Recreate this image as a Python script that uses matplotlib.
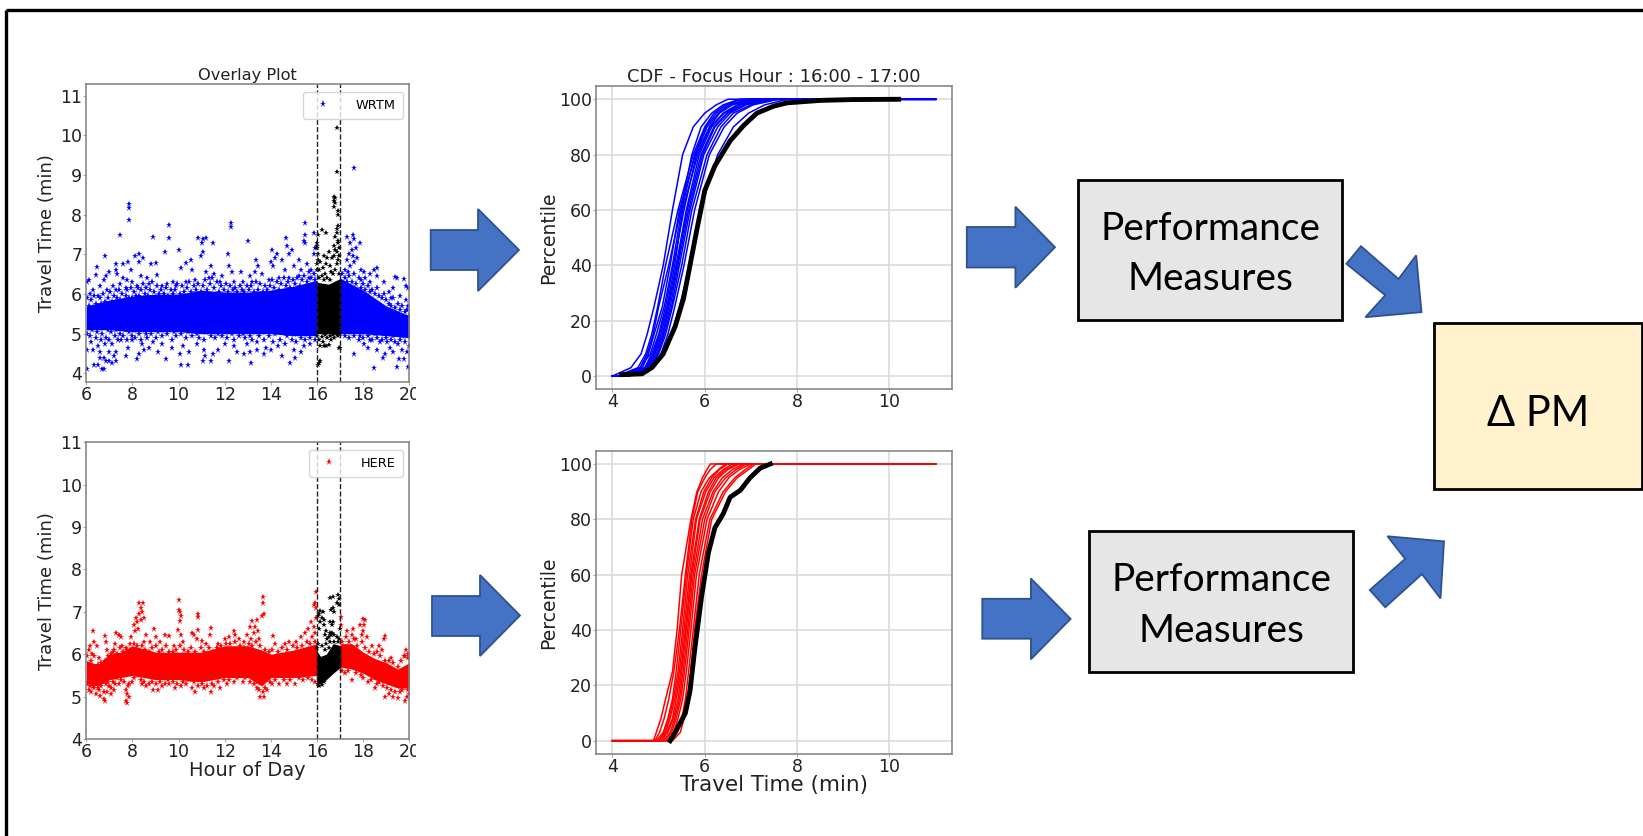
import matplotlib
matplotlib.use('Agg')
import matplotlib.pyplot as plt
from matplotlib.patches import Polygon, Rectangle
import numpy as np

W, H = 1643, 836

# ---- scatter data: (hour, travel time)
hours_grid = [6, 7, 8, 9, 10, 11, 12, 13, 14, 15, 16]
wrtm_core_low = [5.1, 5.1, 5.05, 5.05, 5.05, 5.0, 5.0, 5.0, 5.0, 4.95, 4.95]
wrtm_core_high = [5.7, 5.85, 5.95, 6.0, 6.0, 6.1, 6.05, 6.05, 6.1, 6.2, 6.35]
wrtm_after_hours = [17, 18, 19, 20]
wrtm_after_low = [5.0, 5.0, 4.95, 4.9]
wrtm_after_high = [6.4, 6.1, 5.7, 5.45]

wrtm_pts = [
    (7.83, 8.28), (7.83, 8.18), (7.83, 7.86), (7.47, 7.48), (8.87, 7.45), (9.43, 7.05), (9.6, 7.73),
    (9.6, 7.42), (10.0, 7.1), (10.85, 7.42), (11.0, 7.3), (11.07, 7.38), (11.2, 7.42), (11.5, 7.3),
    (12.27, 7.78), (12.27, 7.7), (12.15, 7.0), (13.03, 7.35), (15.5, 7.78), (15.87, 7.55), (15.5, 7.5),
    (15.5, 7.3), (15.45, 7.35), (14.65, 7.42), (14.7, 7.2), (14.9, 7.1), (14.05, 7.1), (14.25, 7.0),
    (17.6, 9.18), (17.55, 7.5), (17.3, 7.45), (17.6, 7.4), (17.85, 7.3), (17.7, 7.15), (17.45, 7.3),
    (17.5, 7.1), (17.4, 7.0), (17.55, 6.95), (17.75, 6.9), (17.3, 6.85), (17.6, 6.8), (17.45, 6.7),
    (17.2, 6.6), (17.9, 6.6), (17.35, 6.55), (18.05, 6.55), (18.6, 6.65), (18.45, 6.6), (18.3, 6.5),
    (6.8, 6.95), (7.3, 6.75), (7.3, 6.6), (7.6, 6.75), (7.8, 6.8), (8.1, 6.95), (8.3, 7.0), (8.45, 6.92),
    (8.3, 6.8), (8.8, 6.75), (9.0, 6.78), (7.95, 6.6), (7.35, 6.5), (6.45, 6.68), (6.4, 6.48), (6.75, 6.35),
    (6.1, 6.35), (6.05, 6.3), (6.85, 6.45), (7.0, 6.55), (7.6, 6.4), (7.75, 6.35), (8.0, 6.3), (8.35, 6.45),
    (8.65, 6.4), (9.05, 6.48), (9.3, 6.2), (9.75, 6.3), (10.1, 6.65), (10.3, 6.78), (10.55, 6.85), (10.6, 6.6),
    (10.95, 6.95), (11.05, 7.05), (11.3, 6.4), (11.4, 6.7), (11.55, 6.5), (11.9, 6.45), (12.2, 6.7),
    (12.3, 6.55), (12.7, 6.55), (13.1, 6.45), (13.35, 6.85), (13.45, 6.7), (13.3, 6.55), (13.6, 6.5),
    (14.0, 6.8), (14.1, 6.7), (14.2, 6.9), (14.5, 6.85), (14.6, 6.6), (14.8, 7.0), (15.0, 6.7), (15.2, 6.85),
    (15.3, 6.6), (15.55, 6.75), (15.75, 6.6), (15.85, 7.0), (15.9, 7.15), (15.65, 6.4), (15.2, 6.45),
    (14.8, 6.4), (14.35, 6.4), (13.9, 6.35), (13.2, 6.3), (12.8, 6.3), (12.4, 6.3), (11.8, 6.3), (11.2, 6.55),
    (10.7, 6.35), (10.3, 6.3), (9.9, 6.2), (9.5, 6.25), (8.7, 6.25), (8.2, 6.2), (7.45, 6.25), (7.15, 6.2),
    (6.6, 6.2), (6.3, 6.1), (6.15, 6.0), (6.5, 5.95), (6.9, 6.1), (7.3, 6.1), (7.7, 6.15), (18.6, 6.45),
    (18.9, 6.3), (19.3, 6.15), (19.45, 6.4), (19.4, 6.42), (19.75, 6.38), (19.85, 6.2), (19.95, 6.15),
    (19.1, 6.05), (19.6, 5.95), (18.3, 6.3), (18.1, 6.4), (17.9, 6.35), (19.2, 5.9), (19.85, 5.85), (19.95, 5.7),
    (6.05, 4.1), (6.35, 4.22), (6.5, 4.2), (6.7, 4.12), (6.75, 4.1), (6.85, 4.3), (7.0, 4.3), (7.1, 4.25),
    (7.3, 4.3), (6.6, 4.38), (6.75, 4.4), (7.2, 4.45), (7.3, 4.55), (7.0, 4.55), (6.6, 4.55), (6.3, 4.6),
    (6.05, 4.6), (6.2, 4.8), (6.5, 4.7), (6.8, 4.75), (7.1, 4.75), (7.7, 4.45), (8.2, 4.35), (8.3, 4.5),
    (8.5, 4.6), (8.7, 4.65), (8.4, 4.75), (7.8, 4.65), (7.5, 4.85), (8.0, 4.85), (8.9, 4.8), (9.1, 4.55),
    (9.45, 4.37), (9.7, 4.65), (10.05, 4.5), (10.1, 4.22), (10.4, 4.2), (10.45, 4.55), (10.2, 4.7),
    (11.05, 4.3), (11.15, 4.45), (11.4, 4.3), (11.5, 4.5), (11.7, 4.6), (11.1, 4.6), (10.8, 4.75), (12.0, 4.75),
    (12.2, 4.32), (12.4, 4.7), (12.55, 4.55), (12.85, 4.48), (13.15, 4.27), (13.1, 4.55), (13.4, 4.6),
    (13.7, 4.5), (13.8, 4.65), (14.0, 4.6), (14.5, 4.45), (14.3, 4.7), (14.85, 4.25), (15.05, 4.38), (15.0, 4.6),
    (15.3, 4.55), (15.45, 4.7), (15.7, 4.75), (13.4, 4.8), (12.95, 4.75), (9.3, 4.75), (17.6, 4.5),
    (18.05, 4.75), (18.2, 4.65), (18.45, 4.13), (18.6, 4.6), (18.85, 4.38), (18.95, 4.5), (19.3, 4.55),
    (19.45, 4.15), (19.55, 4.35), (19.75, 4.35), (19.95, 4.15), (19.9, 4.55), (19.15, 4.65), (19.7, 4.6),
    (18.3, 4.85), (18.75, 4.8), (19.5, 4.75), (19.05, 4.8), (17.85, 4.95), (20.0, 4.7),
]
# the thick speckled belt around the core of the cloud
wrtm_belt_pts = [
    (6.02, 5.0), (6.1, 5.2), (6.18, 4.95), (6.25, 5.1), (6.33, 5.25), (6.4, 4.9), (6.48, 5.05), (6.55, 5.2),
    (6.63, 4.85), (6.7, 5.0), (6.78, 5.2), (6.85, 4.9), (6.93, 5.1), (7.0, 4.85), (7.08, 5.05), (7.15, 5.2),
    (7.23, 4.95), (7.3, 5.1), (7.38, 4.85), (7.45, 5.0), (7.53, 5.2), (7.6, 4.95), (7.68, 5.1), (7.75, 4.85),
    (7.83, 5.05), (7.9, 5.2), (7.98, 4.95), (8.05, 5.1), (8.13, 4.9), (8.2, 5.2), (8.28, 5.0), (8.35, 4.85),
    (8.43, 5.1), (8.5, 5.22), (8.58, 5.0), (8.65, 4.9), (8.73, 5.15), (8.8, 5.0), (8.9, 5.15), (9.0, 4.9),
    (9.1, 5.05), (9.2, 5.2), (9.3, 4.95), (9.4, 5.1), (9.5, 5.0), (9.6, 5.2), (9.7, 4.85), (9.8, 5.05),
    (9.9, 4.95), (10.0, 5.15), (10.1, 5.0), (10.2, 5.2), (10.3, 4.9), (10.4, 5.05), (10.5, 5.15), (10.6, 4.95),
    (10.7, 5.1), (10.8, 5.0), (10.9, 4.9), (11.0, 5.1), (11.1, 4.85), (11.2, 5.05), (11.3, 5.15), (11.4, 4.95),
    (11.5, 5.1), (11.6, 4.9), (11.7, 5.0), (11.8, 5.15), (11.9, 4.95), (12.0, 5.05), (12.1, 4.9), (12.2, 5.1),
    (12.3, 5.0), (12.4, 4.85), (12.5, 5.1), (12.6, 4.95), (12.7, 5.15), (12.8, 5.0), (12.9, 4.9), (13.0, 5.1),
    (13.1, 4.95), (13.2, 4.85), (13.3, 5.05), (13.4, 5.15), (13.5, 4.95), (13.6, 5.05), (13.7, 4.85), (13.8, 5.1),
    (13.9, 4.95), (14.0, 5.1), (14.1, 4.8), (14.2, 5.0), (14.3, 5.15), (14.4, 4.85), (14.5, 5.05), (14.6, 4.75),
    (14.7, 4.95), (14.8, 5.1), (14.9, 4.85), (15.0, 5.0), (15.1, 4.8), (15.2, 5.05), (15.3, 4.9), (15.4, 5.1),
    (15.5, 4.85), (15.6, 5.0), (15.7, 4.9), (15.8, 5.05), (15.9, 4.85), (17.1, 5.05), (17.2, 4.95), (17.3, 5.1),
    (17.4, 4.9), (17.5, 5.05), (17.6, 4.95), (17.7, 5.1), (17.8, 4.85), (17.9, 5.05), (18.0, 4.9), (18.1, 5.05),
    (18.2, 4.95), (18.3, 5.1), (18.4, 4.85), (18.5, 5.0), (18.6, 4.9), (18.7, 5.1), (18.8, 4.85), (18.9, 5.0),
    (19.0, 4.9), (19.1, 5.05), (19.2, 4.85), (19.3, 4.95), (19.4, 4.8), (19.5, 5.0), (19.6, 4.85), (19.7, 4.95),
    (19.8, 4.8), (19.9, 4.95), (6.05, 5.9), (6.12, 5.7), (6.2, 5.85), (6.28, 5.65), (6.35, 5.95), (6.43, 5.75),
    (6.5, 5.65), (6.58, 5.9), (6.65, 5.75), (6.73, 6.0), (6.8, 5.8), (6.88, 5.65), (6.95, 5.9), (7.03, 6.05),
    (7.1, 5.8), (7.18, 5.95), (7.25, 5.75), (7.33, 5.9), (7.4, 6.1), (7.48, 5.85), (7.55, 6.0), (7.63, 5.8),
    (7.7, 5.95), (7.78, 6.1), (7.85, 5.9), (7.93, 6.15), (8.0, 5.9), (8.08, 6.05), (8.15, 5.95), (8.23, 6.15),
    (8.3, 5.95), (8.38, 6.1), (8.45, 6.25), (8.53, 6.0), (8.6, 6.15), (8.68, 5.95), (8.75, 6.1), (8.85, 6.3),
    (8.95, 6.05), (9.05, 6.2), (9.15, 6.0), (9.25, 6.1), (9.35, 6.0), (9.45, 6.15), (9.55, 5.95), (9.65, 6.1),
    (9.75, 6.0), (9.85, 6.1), (9.95, 6.25), (10.05, 6.0), (10.15, 6.2), (10.25, 6.05), (10.35, 6.15), (10.45, 6.3),
    (10.55, 6.05), (10.65, 6.2), (10.75, 6.1), (10.85, 6.25), (10.95, 6.05), (11.05, 6.2), (11.15, 6.35),
    (11.25, 6.1), (11.35, 6.25), (11.45, 6.4), (11.55, 6.15), (11.65, 6.3), (11.75, 6.05), (11.85, 6.2),
    (11.95, 6.1), (12.05, 6.25), (12.15, 6.05), (12.25, 6.2), (12.35, 6.1), (12.45, 6.15), (12.55, 6.05),
    (12.65, 6.2), (12.75, 6.1), (12.85, 6.05), (12.95, 6.2), (13.05, 6.1), (13.15, 6.2), (13.25, 6.05),
    (13.35, 6.3), (13.45, 6.1), (13.55, 6.25), (13.65, 6.05), (13.75, 6.2), (13.85, 6.1), (13.95, 6.2),
    (14.05, 6.35), (14.15, 6.15), (14.25, 6.3), (14.35, 6.1), (14.45, 6.25), (14.55, 6.4), (14.65, 6.2),
    (14.75, 6.3), (14.85, 6.15), (14.95, 6.35), (15.05, 6.25), (15.15, 6.4), (15.25, 6.2), (15.35, 6.35),
    (15.45, 6.45), (15.55, 6.3), (15.65, 6.55), (15.75, 6.4), (15.85, 6.5), (15.92, 6.35), (17.1, 6.5),
    (17.2, 6.4), (17.3, 6.3), (17.4, 6.45), (17.5, 6.3), (17.6, 6.5), (17.7, 6.25), (17.8, 6.4), (17.9, 6.15),
    (18.0, 6.25), (18.1, 6.1), (18.2, 6.2), (18.3, 6.05), (18.4, 6.1), (18.5, 6.0), (18.6, 6.15), (18.7, 5.95),
    (18.8, 5.9), (18.9, 6.0), (19.0, 5.85), (19.1, 5.75), (19.2, 5.7), (19.3, 5.9), (19.4, 5.65), (19.5, 5.75),
    (19.6, 5.6), (19.7, 5.7), (19.8, 5.55), (19.9, 5.6), (20.0, 5.45),
]
wrtm_focus_grid = [15.97, 16.5, 17.03]
wrtm_focus_low = [5.0, 5.0, 5.0]
wrtm_focus_high = [6.3, 6.25, 6.4]
wrtm_focus_pts = [
    (16.85, 10.18), (16.87, 9.08), (16.75, 8.45), (16.8, 8.42), (16.72, 8.35), (16.8, 8.3), (16.72, 8.2),
    (16.92, 8.1), (16.9, 8.0), (16.9, 7.72), (16.85, 7.65), (16.2, 7.62), (16.4, 7.55), (16.05, 7.5),
    (16.8, 7.45), (16.9, 7.3), (16.0, 7.3), (16.75, 7.2), (16.95, 7.15), (16.85, 7.05), (16.5, 7.05),
    (16.05, 7.0), (16.3, 6.95), (16.45, 6.9), (16.65, 6.9), (16.9, 6.85), (16.75, 6.95), (16.15, 6.8),
    (16.4, 6.75), (16.55, 6.7), (16.25, 6.65), (16.8, 6.6), (16.6, 6.55), (16.35, 6.5), (16.1, 6.6),
    (16.95, 6.5), (16.08, 4.25), (16.12, 4.3), (16.05, 4.22), (16.15, 4.7), (16.3, 4.7), (16.4, 4.68),
    (16.5, 4.72), (16.25, 4.78), (16.95, 4.65), (17.0, 4.63), (16.6, 4.85), (16.75, 4.9), (16.1, 4.85),
    (16.9, 4.95), (16.45, 4.9), (16.0, 4.95), (16.98, 5.0), (16.02, 6.75), (16.05, 6.85), (16.0, 6.6),
    (16.2, 6.45), (16.45, 6.4), (16.7, 6.5), (16.85, 6.75), (16.95, 6.95), (16.8, 7.1), (16.88, 7.55),
    (16.92, 7.35), (16.0, 7.15), (16.02, 7.2), (16.08, 6.4), (16.55, 6.35), (16.3, 6.35), (16.7, 4.98),
    (16.55, 4.95), (16.35, 4.98), (16.2, 4.92), (16.85, 4.98),
]

here_core_hours = [6, 6.5, 7, 7.5, 8, 9, 10, 11, 12, 13, 13.6, 14, 15, 16]
here_core_low = [5.3, 5.25, 5.4, 5.45, 5.5, 5.4, 5.4, 5.35, 5.45, 5.45, 5.25, 5.45, 5.45, 5.5]
here_core_high = [5.85, 5.75, 6.0, 6.05, 6.2, 6.05, 6.05, 6.05, 6.2, 6.2, 6.1, 6.0, 6.1, 6.25]
here_after_hours = [17, 17.5, 18, 18.5, 19, 19.5, 20]
here_after_low = [5.7, 5.65, 5.55, 5.4, 5.3, 5.2, 5.2]
here_after_high = [6.25, 6.25, 6.05, 5.9, 5.8, 5.65, 5.8]

here_pts = [
    (8.3, 7.22), (8.45, 7.2), (8.35, 7.1), (8.4, 7.0), (8.3, 6.95), (8.5, 6.85), (8.15, 6.85), (8.2, 6.75),
    (8.35, 6.8), (8.05, 6.7), (8.1, 6.55), (8.25, 6.6), (8.6, 6.45), (8.75, 6.3), (8.95, 6.6), (8.5, 6.3),
    (7.95, 6.4), (7.9, 6.25), (10.0, 7.27), (10.0, 7.05), (10.05, 7.0), (10.1, 6.9), (10.08, 6.78),
    (9.98, 6.57), (10.1, 6.45), (10.2, 6.3), (10.85, 6.95), (10.85, 6.88), (10.6, 6.5), (10.65, 6.45),
    (10.85, 6.57), (10.8, 6.35), (11.0, 6.32), (11.4, 6.62), (11.35, 6.45), (9.4, 6.45), (9.6, 6.42),
    (9.0, 6.4), (9.2, 6.3), (9.8, 6.2), (13.68, 7.35), (13.65, 7.2), (13.7, 6.95), (13.6, 6.9), (13.4, 6.8),
    (13.2, 6.78), (13.1, 6.65), (13.3, 6.65), (13.45, 6.55), (13.25, 6.5), (12.95, 6.45), (13.5, 6.35),
    (13.15, 6.35), (12.4, 6.55), (12.45, 6.45), (12.2, 6.4), (12.6, 6.35), (12.0, 6.35), (12.85, 6.3),
    (11.7, 6.25), (11.2, 6.25), (14.1, 6.42), (14.2, 6.25), (14.6, 6.25), (14.8, 6.28), (15.1, 6.3),
    (15.3, 6.4), (15.5, 6.5), (15.6, 6.6), (15.75, 6.75), (15.85, 6.65), (15.95, 7.47), (15.92, 7.2),
    (15.85, 7.15), (15.97, 7.1), (15.95, 6.85), (15.9, 6.5), (15.8, 6.4), (6.15, 6.2), (6.1, 6.1), (6.3, 6.55),
    (6.35, 6.3), (6.45, 6.2), (6.25, 6.0), (6.55, 5.9), (6.8, 6.42), (6.85, 6.3), (6.9, 6.1), (7.3, 6.5),
    (7.4, 6.45), (7.5, 6.4), (7.25, 6.25), (7.55, 6.2), (7.7, 6.15), (7.15, 6.05), (7.25, 5.95), (6.95, 5.95),
    (6.1, 5.15), (6.2, 5.1), (6.4, 5.05), (6.6, 5.02), (6.75, 4.95), (6.8, 4.9), (6.9, 5.1), (7.05, 5.05),
    (7.2, 5.15), (6.5, 5.2), (6.3, 5.25), (7.0, 5.25), (7.4, 5.3), (7.7, 5.15), (7.75, 5.05), (7.7, 4.9),
    (7.75, 4.85), (7.85, 5.0), (7.8, 5.25), (8.0, 5.35), (8.4, 5.3), (8.6, 5.25), (8.9, 5.15), (9.1, 5.15),
    (9.3, 5.25), (9.6, 5.3), (9.85, 5.2), (10.1, 5.25), (10.3, 5.3), (10.6, 5.2), (10.7, 5.12), (11.1, 5.2),
    (11.4, 5.1), (11.55, 5.25), (11.8, 5.2), (12.1, 5.3), (12.4, 5.35), (12.8, 5.35), (13.1, 5.35),
    (13.4, 5.2), (13.55, 5.0), (13.7, 4.98), (13.65, 5.1), (13.85, 5.15), (14.05, 5.3), (14.35, 5.3),
    (14.7, 5.3), (15.05, 5.3), (15.4, 5.4), (15.8, 5.4), (15.9, 5.35), (17.05, 6.7), (17.05, 6.88),
    (17.3, 6.55), (17.55, 6.6), (17.5, 6.45), (17.85, 6.7), (18.0, 6.82), (18.05, 6.7), (18.0, 6.55),
    (18.1, 6.8), (18.15, 6.4), (17.95, 6.45), (17.7, 6.35), (18.4, 6.2), (18.95, 6.42), (18.9, 6.35),
    (18.7, 6.2), (18.8, 6.1), (19.2, 5.9), (19.85, 6.1), (19.95, 6.0), (19.75, 5.95), (18.5, 5.2),
    (18.95, 5.0), (19.1, 5.05), (19.3, 5.0), (19.5, 4.97), (19.8, 4.9), (19.9, 5.0), (20.0, 5.05),
    (19.6, 5.1), (19.2, 5.15), (18.2, 5.35), (18.7, 5.35), (17.5, 5.4), (17.2, 5.55), (17.9, 5.5),
]
# bumpy edges of the red cloud
here_belt_pts = [
    (6.05, 5.3), (6.15, 5.25), (6.25, 5.35), (6.35, 5.2), (6.45, 5.3), (6.55, 5.15), (6.65, 5.25), (6.75, 5.1),
    (6.85, 5.3), (6.95, 5.35), (7.05, 5.2), (7.15, 5.35), (7.25, 5.3), (7.35, 5.45), (7.5, 5.4), (7.65, 5.35),
    (7.85, 5.3), (8.05, 5.45), (8.2, 5.5), (8.35, 5.4), (8.5, 5.35), (8.7, 5.3), (8.85, 5.35), (9.0, 5.3),
    (9.2, 5.35), (9.4, 5.3), (9.55, 5.4), (9.75, 5.35), (9.95, 5.3), (10.2, 5.35), (10.45, 5.4), (10.65, 5.35),
    (10.85, 5.25), (11.0, 5.3), (11.25, 5.25), (11.45, 5.3), (11.7, 5.35), (11.95, 5.4), (12.2, 5.4),
    (12.55, 5.45), (12.9, 5.45), (13.25, 5.3), (13.4, 5.35), (13.5, 5.15), (13.75, 5.2), (13.95, 5.35),
    (14.2, 5.4), (14.55, 5.4), (14.85, 5.4), (15.2, 5.45), (15.6, 5.45), (17.1, 5.6), (17.35, 5.6), (17.7, 5.55),
    (18.0, 5.45), (18.35, 5.4), (18.6, 5.3), (18.85, 5.25), (19.05, 5.2), (19.4, 5.1), (19.7, 5.15), (19.95, 5.15),
    (6.05, 5.95), (6.2, 5.85), (6.35, 5.95), (6.5, 5.75), (6.65, 5.8), (6.8, 5.85), (7.05, 6.0), (7.2, 6.1),
    (7.35, 6.0), (7.45, 6.15), (7.6, 6.05), (7.75, 6.1), (7.9, 6.1), (8.05, 6.25), (8.2, 6.2), (8.4, 6.2),
    (8.55, 6.1), (8.7, 6.05), (8.85, 6.15), (9.0, 6.2), (9.15, 6.05), (9.3, 6.1), (9.45, 6.2), (9.6, 6.05),
    (9.75, 6.05), (9.9, 6.1), (10.05, 6.2), (10.25, 6.1), (10.4, 6.05), (10.55, 6.15), (10.7, 6.05),
    (10.95, 6.15), (11.1, 6.05), (11.3, 6.15), (11.5, 6.05), (11.65, 6.15), (11.85, 6.2), (12.05, 6.25),
    (12.25, 6.25), (12.45, 6.3), (12.65, 6.2), (12.85, 6.15), (13.05, 6.25), (13.2, 6.2), (13.35, 6.3),
    (13.55, 6.2), (13.75, 6.1), (13.9, 6.05), (14.05, 6.1), (14.3, 6.05), (14.5, 6.15), (14.7, 6.1),
    (14.95, 6.2), (15.15, 6.15), (15.35, 6.2), (15.55, 6.3), (15.7, 6.25), (15.9, 6.3), (17.1, 6.3),
    (17.25, 6.4), (17.4, 6.3), (17.6, 6.35), (17.75, 6.2), (17.95, 6.3), (18.1, 6.15), (18.25, 6.05),
    (18.45, 6.0), (18.6, 6.05), (18.75, 5.95), (18.95, 5.85), (19.1, 5.85), (19.3, 5.8), (19.5, 5.7),
    (19.65, 5.85), (19.8, 5.95), (19.95, 5.9),
]
here_focus_grid = [15.97, 16.15, 16.4, 16.7, 17.03]
here_focus_low = [5.35, 5.3, 5.4, 5.55, 5.7]
here_focus_high = [6.1, 5.95, 6.0, 6.25, 6.2]
here_focus_pts = [
    (16.92, 7.4), (16.95, 7.3), (16.88, 7.2), (16.95, 7.15), (16.7, 7.35), (16.55, 7.32), (16.7, 7.1),
    (16.6, 7.05), (16.75, 7.0), (16.15, 7.02), (16.25, 7.0), (16.08, 6.95), (16.2, 6.85), (16.12, 6.75),
    (16.05, 6.9), (16.3, 6.8), (16.55, 6.75), (16.7, 6.75), (16.65, 6.7), (16.08, 6.6), (16.3, 6.7),
    (16.98, 6.6), (16.4, 6.55), (16.55, 6.5), (16.35, 6.45), (16.65, 6.5), (16.75, 6.45), (16.5, 6.4),
    (16.85, 6.4), (16.95, 6.35), (16.05, 6.25), (16.2, 6.2), (16.55, 6.3), (16.4, 6.25), (16.75, 6.3),
    (16.05, 5.3), (16.1, 5.25), (16.2, 5.28), (16.15, 5.35), (16.3, 5.35), (16.45, 6.35), (16.6, 6.45),
    (16.9, 6.3), (16.35, 6.1), (16.5, 6.15), (16.02, 6.15),
]

# ---- CDF curves: travel time reached at each percentile
percentiles = [0, 3, 8, 15, 25, 40, 60, 80, 90, 95, 98, 100]
wrtm_curves = [
    [4.0, 4.4, 4.62, 4.75, 4.9, 5.1, 5.3, 5.52, 5.75, 6.0, 6.25, 6.5],
    [4.1, 4.55, 4.72, 4.85, 4.98, 5.15, 5.42, 5.75, 6.0, 6.2, 6.45, 6.8],
    [4.15, 4.6, 4.75, 4.88, 5.0, 5.22, 5.48, 5.72, 5.92, 6.15, 6.4, 6.75],
    [4.2, 4.65, 4.78, 4.9, 5.08, 5.25, 5.45, 5.8, 6.05, 6.3, 6.55, 6.9],
    [4.2, 4.6, 4.82, 4.95, 5.12, 5.3, 5.5, 5.78, 6.02, 6.25, 6.5, 7.0],
    [4.25, 4.7, 4.85, 5.0, 5.15, 5.32, 5.55, 5.82, 6.1, 6.32, 6.6, 7.05],
    [4.25, 4.72, 4.88, 5.02, 5.18, 5.35, 5.52, 5.85, 6.12, 6.4, 6.7, 7.1],
    [4.3, 4.75, 4.9, 5.05, 5.2, 5.38, 5.6, 5.88, 6.15, 6.42, 6.75, 7.2],
    [4.3, 4.75, 4.92, 5.08, 5.22, 5.4, 5.62, 5.92, 6.2, 6.48, 6.78, 7.25],
    [4.3, 4.78, 4.95, 5.1, 5.25, 5.42, 5.65, 5.95, 6.22, 6.5, 6.85, 7.3],
    [4.32, 4.8, 4.98, 5.12, 5.28, 5.45, 5.68, 5.98, 6.28, 6.55, 6.9, 7.4],
    [4.35, 4.82, 5.0, 5.15, 5.3, 5.5, 5.72, 6.05, 6.35, 6.62, 7.0, 7.5],
    [4.35, 4.85, 5.05, 5.2, 5.35, 5.55, 5.78, 6.1, 6.42, 6.7, 7.05, 7.6],
    [4.35, 4.9, 5.1, 5.28, 5.45, 5.68, 5.9, 6.28, 6.62, 6.95, 7.3, 7.8],
]
here_curves = [
    [4.89, 4.95, 5.05, 5.15, 5.3, 5.4, 5.5, 5.7, 5.83, 5.95, 6.05, 6.12],
    [4.92, 5.02, 5.12, 5.22, 5.33, 5.45, 5.58, 5.72, 5.85, 6.0, 6.12, 6.25],
    [4.95, 5.1, 5.2, 5.3, 5.38, 5.48, 5.6, 5.75, 5.92, 6.1, 6.3, 6.45],
    [5.0, 5.12, 5.22, 5.32, 5.42, 5.52, 5.63, 5.8, 5.98, 6.15, 6.32, 6.5],
    [5.0, 5.15, 5.25, 5.35, 5.45, 5.55, 5.67, 5.82, 6.02, 6.2, 6.4, 6.6],
    [5.05, 5.18, 5.3, 5.38, 5.48, 5.58, 5.7, 5.88, 6.08, 6.25, 6.45, 6.7],
    [5.05, 5.2, 5.32, 5.42, 5.5, 5.6, 5.72, 5.9, 6.12, 6.3, 6.5, 6.75],
    [5.1, 5.25, 5.35, 5.45, 5.53, 5.63, 5.75, 5.95, 6.18, 6.38, 6.6, 6.85],
    [5.1, 5.28, 5.38, 5.48, 5.56, 5.66, 5.78, 6.0, 6.22, 6.45, 6.68, 6.9],
    [5.15, 5.32, 5.42, 5.52, 5.6, 5.7, 5.82, 6.05, 6.3, 6.52, 6.75, 7.0],
    [5.2, 5.4, 5.5, 5.58, 5.65, 5.75, 5.88, 6.11, 6.4, 6.65, 6.88, 7.05],
    [5.3, 5.47, 5.55, 5.62, 5.7, 5.78, 5.93, 6.15, 6.45, 6.7, 6.95, 7.1],
]
wrtm_focus_x = [4.2, 4.64, 4.85, 5.1, 5.36, 5.54, 5.68, 5.83, 6.0, 6.22, 6.55, 6.84, 7.13, 7.49, 7.78, 8.5, 9.2, 10.2]
wrtm_focus_y = [0.5, 0.8, 3, 8, 18, 28, 40, 53, 67, 76, 85, 90.5, 95, 97.5, 98.7, 99.6, 99.9, 100]
here_focus_x = [5.25, 5.36, 5.58, 5.68, 5.79, 5.93, 6.08, 6.22, 6.4, 6.55, 6.77, 6.98, 7.2, 7.42]
here_focus_y = [0, 3, 10, 18, 34, 52, 68, 77, 82, 88, 90.5, 95, 98.5, 100]


def px_axes(left, top, right, bottom):
    return fig.add_axes([left / W, 1 - bottom / H, (right - left) / W, (bottom - top) / H])


def style_axes(ax):
    for s in ax.spines.values():
        s.set_color('#7f7f7f')
        s.set_linewidth(1.1)
    ax.tick_params(labelsize=12.5, length=2, width=0.6, color='#999999', labelcolor='#222222', pad=1)


def scatter_panel(ax, grid, low, high, after_grid, after_low, after_high, pts, belt, focus_pts,
                  color, label, ylim, f_grid, f_low, f_high):
    pts = np.array(pts)
    belt = np.array(belt)
    focus_pts = np.array(focus_pts)
    ax.fill_between(grid, low, high, color=color, lw=0)
    ax.fill_between(after_grid, after_low, after_high, color=color, lw=0)
    ax.plot(belt[:, 0], belt[:, 1], '*', color=color, ms=5.5, mew=0)
    ax.plot(pts[:, 0], pts[:, 1], '*', color=color, ms=4.6, mew=0, label=label)
    ax.fill_between(f_grid, f_low, f_high, color='black', lw=0)
    ax.plot(focus_pts[:, 0], focus_pts[:, 1], '*', color='black', ms=4.2, mew=0)
    ax.axvline(16, color='#222222', ls='--', lw=1)
    ax.axvline(17, color='#222222', ls='--', lw=1)
    ax.set_xlim(6, 20)
    ax.set_ylim(*ylim)
    ax.set_xticks(range(6, 21, 2))
    ax.set_yticks(range(4, 12))
    ax.set_ylabel('Travel Time (min)', fontsize=13, color='#222222', labelpad=3)
    style_axes(ax)
    ax.legend(loc='upper right', fontsize=9.3, handletextpad=1.5, borderpad=0.55,
              bbox_to_anchor=(0.98, 0.975), borderaxespad=0, markerscale=1.1)
    # the source image crops the last tick label on the right
    crop = Rectangle((0, 0), 416 / W, 1, transform=fig.transFigure)
    lbl = ax.get_xticklabels()[-1]
    lbl.set_clip_on(True)
    lbl.set_clip_path(crop)


def cdf_panel(ax, curves, color, fx, fy):
    for c in curves:
        ax.plot([4] + c + [11], [0] + percentiles + [100], color=color, lw=1.1)
    ax.plot(fx, fy, color='black', lw=3.5)
    ax.set_xlim(3.65, 11.35)
    ax.set_ylim(-4.8, 104.8)
    ax.set_xticks([4, 6, 8, 10])
    ax.set_yticks(range(0, 101, 20))
    ax.grid(color='#dcdcdc', lw=1.2)
    ax.set_axisbelow(True)
    ax.set_ylabel('Percentile', fontsize=13.5, color='#222222', labelpad=1)
    style_axes(ax)


fig = plt.figure(figsize=(W / 100, H / 100), dpi=100)

ax1 = px_axes(86.3, 84.3, 409.3, 381.7)
scatter_panel(ax1, hours_grid, wrtm_core_low, wrtm_core_high, wrtm_after_hours, wrtm_after_low,
              wrtm_after_high, wrtm_pts, wrtm_belt_pts, wrtm_focus_pts, '#0000ff', 'WRTM', (3.79, 11.29),
              wrtm_focus_grid, wrtm_focus_low, wrtm_focus_high)
ax1.set_title('Overlay Plot', fontsize=11.7, color='#222222', pad=3)

ax3 = px_axes(86.3, 442.3, 409.3, 739)
scatter_panel(ax3, here_core_hours, here_core_low, here_core_high, here_after_hours, here_after_low,
              here_after_high, here_pts, here_belt_pts, here_focus_pts, '#ff0000', 'HERE', (4, 11),
              here_focus_grid, here_focus_low, here_focus_high)
ax3.set_xlabel('Hour of Day', fontsize=14, color='#222222', labelpad=0)

ax2 = px_axes(596.3, 86, 951.7, 389.3)
cdf_panel(ax2, wrtm_curves, '#0000ff', wrtm_focus_x, wrtm_focus_y)
ax2.set_title('CDF - Focus Hour : 16:00 - 17:00', fontsize=13, color='#222222', pad=3)

ax4 = px_axes(596.3, 450.7, 951.7, 754)
cdf_panel(ax4, here_curves, '#ff0000', here_focus_x, here_focus_y)
ax4.set_xlabel('Travel Time (min)', fontsize=15.5, color='#222222', labelpad=-1)

# ---- flow diagram, in pixel coordinates
ov = fig.add_axes([0, 0, 1, 1], zorder=-1)
ov.set_xlim(0, W)
ov.set_ylim(H, 0)
ov.axis('off')
ov.plot([6, 6], [H, 10], color='black', lw=2.4, solid_capstyle='butt')
ov.plot([6, W], [10, 10], color='black', lw=2.4, solid_capstyle='butt')


def arrow(points):
    ov.add_patch(Polygon(points, closed=True, fc='#4472c4', ec='#2f528f', lw=1.3))


def right_arrow(x0, base, tip, top, s_top, s_bot, bot):
    arrow([(x0, s_top), (base, s_top), (base, top), (tip, (top + bot) / 2), (base, bot), (base, s_bot), (x0, s_bot)])


right_arrow(430.7, 478, 519, 209, 230, 270, 291)
right_arrow(432, 480, 520, 575, 596, 636, 656)
right_arrow(966.8, 1015.4, 1055, 206.7, 227, 267.5, 287.8)
right_arrow(982.3, 1030.9, 1070.6, 578.5, 598.8, 638.7, 659.3)


def zoom_pt(zx, zy):
    return (950 + zx / 2.263, 160 + zy / 2.958)


arrow([zoom_pt(*p) for p in [(930, 255), (1015, 352), (1055, 282), (1067, 450), (940, 465), (985, 400), (897, 307)]])
arrow([zoom_pt(*p) for p in [(950, 1272), (1030, 1180), (990, 1113), (1118, 1128), (1110, 1297), (1068, 1225), (985, 1323)]])


def box(x0, y0, x1, y1, fc, lw, txt, fs, dy=0):
    ov.add_patch(Rectangle((x0, y0), x1 - x0, y1 - y0, fc=fc, ec='black', lw=lw))
    ov.text((x0 + x1) / 2, (y0 + y1) / 2 + dy, txt, ha='center', va='center', fontsize=fs,
            family='Lato', color='black', linespacing=1.5)


box(1078, 179.6, 1342.4, 320, '#e7e6e6', 2, 'Performance\nMeasures', 28, dy=4)
box(1089, 531, 1353.4, 671.5, '#e7e6e6', 2, 'Performance\nMeasures', 28, dy=4)
box(1434.3, 323, 1641.6, 489.3, '#fff2cc', 2, '\u0394 PM', 30, dy=8)

fig.savefig('out.png', dpi=100)
